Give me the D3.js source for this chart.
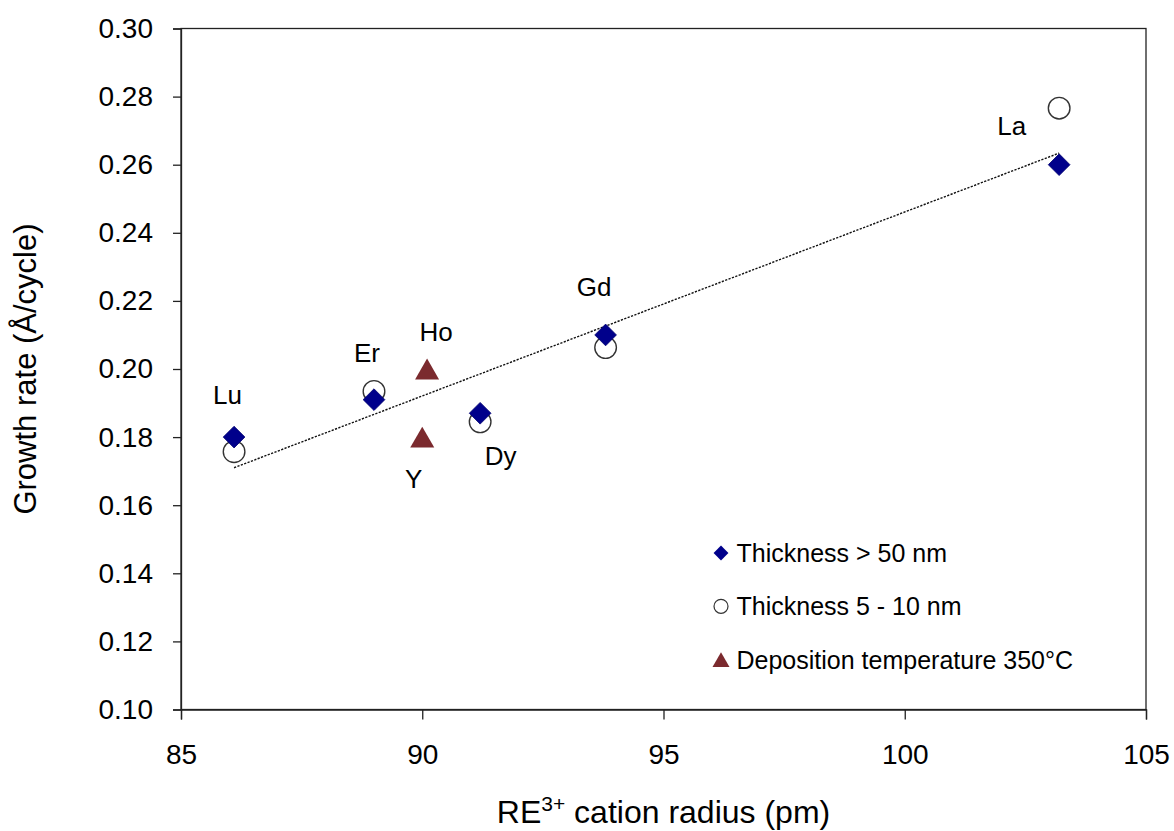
<!DOCTYPE html>
<html>
<head>
<meta charset="utf-8">
<script src="https://cdn.jsdelivr.net/npm/d3@7"></script>
<style>
  html, body { margin: 0; padding: 0; background: #fff; }
  svg { display: block; font-family: "Liberation Sans", Arial, sans-serif; }
</style>
</head>
<body>
<svg id="chart" width="1174" height="831"></svg>
<script>
// Rare-earth elements and their RE3+ cation radii (pm)
const elements = ["Lu", "Er", "Dy", "Gd", "La"];
const radius = [86.1, 89.0, 91.2, 93.8, 103.2];
// Growth rate (Å/cycle) for thick films (> 50 nm)
const rateThick = [0.180, 0.191, 0.187, 0.210, 0.260];
// Growth rate (Å/cycle) for thin films (5 - 10 nm)
const rateThin = [0.1757, 0.1934, 0.1845, 0.2063, 0.2766];
// Films deposited at 350 °C
const hotElements = ["Ho", "Y"];
const hotRadius = [90.1, 90.0];
const hotRate = [0.200, 0.180];

const xTicks = [85, 90, 95, 100, 105];
const yTicks = [0.10, 0.12, 0.14, 0.16, 0.18, 0.20, 0.22, 0.24, 0.26, 0.28, 0.30];

const svg = d3.select("#chart");
const m = { left: 181, right: 1146, top: 28.5, bottom: 709.5 };

const x = d3.scaleLinear().domain([85, 105]).range([m.left, m.right]);
const y = d3.scaleLinear().domain([0.10, 0.30]).range([m.bottom, m.top]);

// Plot frame
svg.append("rect")
  .attr("x", m.left).attr("y", m.top)
  .attr("width", m.right - m.left).attr("height", m.bottom - m.top)
  .attr("fill", "none").attr("stroke", "#222").attr("stroke-width", 1.3);

// Axes
const yAxis = svg.append("g")
  .attr("transform", `translate(${m.left},0)`)
  .call(d3.axisLeft(y).tickValues(yTicks).tickFormat(d3.format(".2f")).tickSize(8).tickPadding(20));
const xAxis = svg.append("g")
  .attr("transform", `translate(0,${m.bottom})`)
  .call(d3.axisBottom(x).tickValues(xTicks).tickFormat(d3.format("d")).tickSize(10).tickPadding(25));
[yAxis, xAxis].forEach(g => {
  g.select(".domain").attr("stroke", "#222").attr("stroke-width", 1.3);
  g.selectAll(".tick line").attr("stroke", "#222").attr("stroke-width", 1.3);
  g.selectAll(".tick text").attr("fill", "#000")
    .style("font-family", "'Liberation Sans', Arial, sans-serif").style("font-size", "28px");
});

// Linear trend line fitted through both thickness series
const allX = radius.concat(radius);
const allY = rateThick.concat(rateThin);
const mx = d3.mean(allX), my = d3.mean(allY);
const slope = d3.sum(allX, (v, i) => (v - mx) * (allY[i] - my)) / d3.sum(allX, v => (v - mx) * (v - mx));
const fit = v => my + slope * (v - mx);
const xr = d3.extent(radius);
svg.append("line")
  .attr("x1", x(xr[0])).attr("y1", y(fit(xr[0])))
  .attr("x2", x(xr[1])).attr("y2", y(fit(xr[1])))
  .attr("stroke", "#111").attr("stroke-width", 1.4).attr("stroke-dasharray", "2.2,1.4");

// Thin-film series: open circles
svg.append("g").selectAll("circle").data(radius).join("circle")
  .attr("cx", d => x(d)).attr("cy", (d, i) => y(rateThin[i]))
  .attr("r", 10.8).attr("fill", "#fff").attr("stroke", "#333").attr("stroke-width", 1.4);

// Thick-film series: navy diamonds
const diamond = d3.symbol().type(d3.symbolDiamond2).size(300);
svg.append("g").selectAll("path").data(radius).join("path")
  .attr("d", diamond)
  .attr("transform", (d, i) => `translate(${x(d)},${y(rateThick[i])})`)
  .attr("fill", "#00008b").attr("stroke", "#000070").attr("stroke-width", 0.8);

// 350 °C series: maroon triangles, centred on their bounding box
const triSize = 250;
const triHalf = Math.sqrt(triSize / (Math.sqrt(3) * 3)) / 2;
const triangle = d3.symbol().type(d3.symbolTriangle).size(triSize);
svg.append("g").selectAll("path").data(hotRadius).join("path")
  .attr("d", triangle)
  .attr("transform", (d, i) => `translate(${x(d)},${y(hotRate[i]) + triHalf})`)
  .attr("fill", "#7b2a2e");

// Element labels (offsets in pixels from the associated marker)
const labels = [
  { t: "Lu", x: radius[0], y: rateThick[0], dx: -6.5, dy: -33 },
  { t: "Er", x: radius[1], y: rateThin[1], dx: -7, dy: -29.5 },
  { t: "Ho", x: hotRadius[0], y: hotRate[0], dx: 9, dy: -28.5 },
  { t: "Y", x: hotRadius[1], y: hotRate[1], dx: -8.5, dy: 51 },
  { t: "Dy", x: radius[2], y: rateThin[2], dx: 20.5, dy: 43 },
  { t: "Gd", x: radius[3], y: rateThick[3], dx: -11.5, dy: -38.5 },
  { t: "La", x: radius[4], y: rateThin[4], dx: -47.5, dy: 27 }
];
svg.append("g").selectAll("text").data(labels).join("text")
  .attr("x", d => x(d.x) + d.dx).attr("y", d => y(d.y) + d.dy)
  .attr("text-anchor", "middle").attr("font-size", 26).attr("fill", "#000")
  .text(d => d.t);

// Legend
const legend = [
  { label: "Thickness > 50 nm", sym: "diamond" },
  { label: "Thickness 5 - 10 nm", sym: "circle" },
  { label: "Deposition temperature 350\u00B0C", sym: "triangle" }
];
const lg = svg.append("g").attr("transform", "translate(721,553)");
legend.forEach((d, i) => {
  const g = lg.append("g").attr("transform", `translate(0,${i * 53.3})`);
  if (d.sym === "diamond") {
    g.append("path").attr("d", d3.symbol().type(d3.symbolDiamond2).size(140)).attr("fill", "#00008b");
  } else if (d.sym === "circle") {
    g.append("circle").attr("r", 7).attr("fill", "#fff").attr("stroke", "#333").attr("stroke-width", 1.2);
  } else {
    const s = 125, h = Math.sqrt(s / (Math.sqrt(3) * 3)) / 2;
    g.append("path").attr("d", d3.symbol().type(d3.symbolTriangle).size(s))
      .attr("transform", `translate(0,${h})`).attr("fill", "#7b2a2e");
  }
  g.append("text").attr("x", 15.5).attr("y", 9).attr("font-size", 25).attr("fill", "#000").text(d.label);
});

// Axis titles
svg.append("text")
  .attr("transform", `translate(36,${(m.top + m.bottom) / 2}) rotate(-90)`)
  .attr("text-anchor", "middle").attr("font-size", 31).attr("fill", "#000")
  .text("Growth rate (\u00C5/cycle)");
const xt = svg.append("text")
  .attr("x", (m.left + m.right) / 2).attr("y", 823)
  .attr("text-anchor", "middle").attr("font-size", 32).attr("fill", "#000");
xt.append("tspan").text("RE");
xt.append("tspan").attr("dy", -12).attr("font-size", 21).text("3+");
xt.append("tspan").attr("dy", 12).text(" cation radius (pm)");
</script>
</body>
</html>
